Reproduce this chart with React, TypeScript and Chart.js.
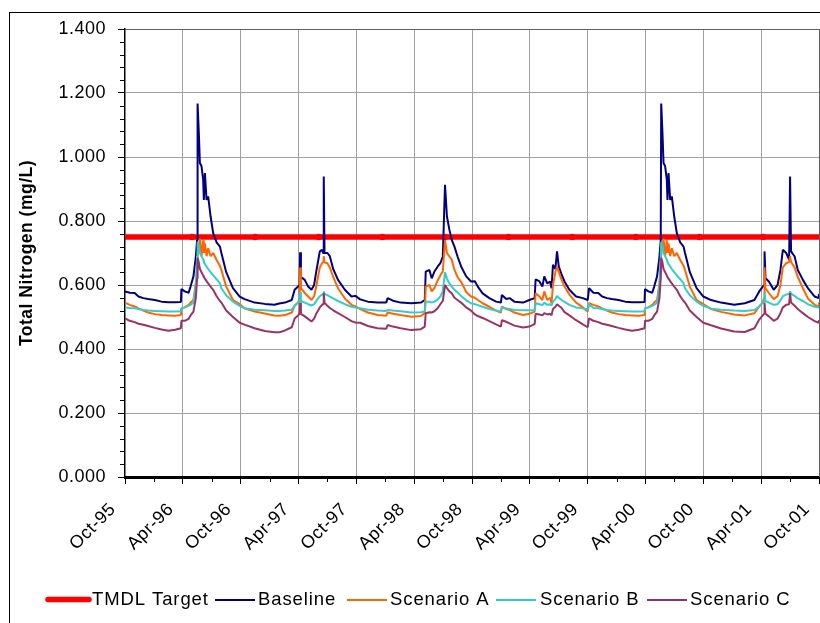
import React, { useEffect, useRef } from 'react';
import { Chart, registerables } from 'chart.js';

Chart.register(...registerables);

// X positions: months elapsed since Oct-95
const tickLabels = ['Oct-95', 'Apr-96', 'Oct-96', 'Apr-97', 'Oct-97', 'Apr-98', 'Oct-98', 'Apr-99', 'Oct-99', 'Apr-00', 'Oct-00', 'Apr-01', 'Oct-01'];

const months = [
  0, 0.5, 1.0, 1.4, 1.9, 2.4, 3.1, 3.8, 4.5, 5.2, 5.8, 5.85, 6.2, 6.6, 6.8, 7.1, 7.35, 7.48, 7.53, 7.66, 7.77, 7.94, 8.11, 8.18, 8.29, 8.46, 8.63, 8.88, 9.15, 9.5, 9.85, 10.0, 10.5, 11.2, 11.9,
  12.4, 13.45, 14.5, 15.5, 16.0, 16.6, 17.3, 17.6, 17.96, 18.12, 18.17, 18.25, 18.65, 19.0, 19.35, 19.62, 19.87, 20.21, 20.45, 20.55, 20.62, 20.7, 21.0, 21.25, 21.6, 22.1, 22.81, 23.5, 23.9,
  24.4, 25.2, 26.2, 27.1, 27.25, 27.8, 28.6, 29.7, 30.7, 31.1, 31.2, 31.58, 31.82, 32.1, 32.45, 32.72, 32.97, 33.2, 33.4, 33.65, 33.9, 34.18, 34.5, 34.87, 35.4, 35.9,
  36.3, 36.6, 37.1, 37.8, 38.5, 39.0, 39.1, 39.55, 39.9, 40.4, 41.3, 41.95, 42.5, 42.6, 43.0, 43.3, 43.5, 43.8, 44.1, 44.25, 44.4, 44.65, 44.82, 45.0, 45.3, 45.6, 46.1, 46.8, 47.5, 48.0,
  48.15, 48.6, 49.1, 49.5, 50.0, 50.5, 51.2, 51.9, 52.6, 53.3, 53.9, 53.95, 54.3, 54.7, 54.9, 55.2, 55.45, 55.58, 55.63, 55.76, 55.87, 56.04, 56.21, 56.28, 56.39, 56.56, 56.73, 56.98, 57.25, 57.6, 57.95, 58.1, 58.6, 59.3, 60.0,
  60.8, 61.84, 63.2, 64.3, 65.3, 65.8, 66.17, 66.3, 66.35, 66.45, 66.8, 67.3, 67.7, 68.0, 68.25, 68.6, 68.9, 69.0, 69.1, 69.47, 69.8, 70.33, 70.85, 71.55, 71.96, 72.0,
];

const baseline = [
  0.580, 0.576, 0.575, 0.564, 0.559, 0.556, 0.553, 0.548, 0.546, 0.546, 0.547, 0.587, 0.580, 0.576, 0.595, 0.627, 0.689, 0.740, 1.167, 1.075, 0.981, 0.971, 0.929, 0.866, 0.950, 0.866, 0.877, 0.814, 0.762, 0.733, 0.720, 0.700, 0.640, 0.590, 0.564,
  0.556, 0.545, 0.541, 0.538, 0.542, 0.545, 0.553, 0.585, 0.595, 0.600, 0.702, 0.625, 0.616, 0.595, 0.585, 0.600, 0.647, 0.705, 0.710, 0.700, 0.939, 0.700, 0.700, 0.690, 0.650, 0.616, 0.585, 0.564, 0.566,
  0.555, 0.548, 0.545, 0.545, 0.559, 0.551, 0.545, 0.543, 0.545, 0.553, 0.642, 0.647, 0.621, 0.642, 0.658, 0.668, 0.689, 0.913, 0.814, 0.773, 0.741, 0.720, 0.689, 0.658, 0.627, 0.611,
  0.612, 0.595, 0.574, 0.559, 0.548, 0.545, 0.569, 0.556, 0.559, 0.548, 0.545, 0.553, 0.559, 0.618, 0.611, 0.595, 0.627, 0.605, 0.611, 0.590, 0.663, 0.650, 0.705, 0.658, 0.632, 0.611, 0.585, 0.564, 0.559, 0.553,
  0.590, 0.576, 0.575, 0.564, 0.559, 0.556, 0.553, 0.548, 0.546, 0.546, 0.547, 0.587, 0.580, 0.576, 0.595, 0.627, 0.689, 0.740, 1.167, 1.075, 0.981, 0.971, 0.929, 0.866, 0.950, 0.866, 0.877, 0.814, 0.762, 0.733, 0.720, 0.700, 0.640, 0.590, 0.564,
  0.553, 0.545, 0.538, 0.543, 0.553, 0.580, 0.595, 0.600, 0.705, 0.621, 0.611, 0.585, 0.600, 0.647, 0.710, 0.700, 0.679, 0.939, 0.705, 0.689, 0.647, 0.616, 0.590, 0.564, 0.559, 0.572,
];

const scenarioA = [
  0.545, 0.538, 0.533, 0.527, 0.520, 0.514, 0.509, 0.506, 0.505, 0.504, 0.506, 0.527, 0.530, 0.538, 0.545, 0.553, 0.606, 0.650, 0.700, 0.720, 0.745, 0.690, 0.740, 0.700, 0.730, 0.690, 0.715, 0.690, 0.700, 0.678, 0.660, 0.647, 0.595, 0.553, 0.540,
  0.527, 0.517, 0.511, 0.505, 0.504, 0.506, 0.514, 0.535, 0.545, 0.560, 0.655, 0.590, 0.575, 0.564, 0.553, 0.565, 0.600, 0.655, 0.668, 0.672, 0.690, 0.670, 0.668, 0.655, 0.625, 0.590, 0.558, 0.538, 0.533,
  0.525, 0.514, 0.506, 0.504, 0.514, 0.510, 0.506, 0.501, 0.503, 0.512, 0.595, 0.600, 0.580, 0.590, 0.615, 0.630, 0.642, 0.740, 0.700, 0.689, 0.679, 0.647, 0.625, 0.610, 0.578, 0.564,
  0.560, 0.553, 0.543, 0.532, 0.520, 0.514, 0.532, 0.525, 0.522, 0.514, 0.506, 0.510, 0.517, 0.574, 0.564, 0.553, 0.580, 0.553, 0.560, 0.543, 0.600, 0.640, 0.658, 0.640, 0.616, 0.595, 0.570, 0.545, 0.530, 0.517,
  0.543, 0.538, 0.533, 0.527, 0.520, 0.514, 0.509, 0.506, 0.505, 0.504, 0.506, 0.527, 0.530, 0.538, 0.545, 0.553, 0.606, 0.650, 0.700, 0.720, 0.745, 0.690, 0.740, 0.700, 0.730, 0.690, 0.715, 0.690, 0.700, 0.678, 0.660, 0.647, 0.595, 0.553, 0.540,
  0.525, 0.516, 0.508, 0.505, 0.512, 0.533, 0.545, 0.560, 0.655, 0.590, 0.575, 0.556, 0.565, 0.600, 0.655, 0.668, 0.672, 0.690, 0.672, 0.655, 0.625, 0.590, 0.558, 0.538, 0.533, 0.545,
];

const scenarioB = [
  0.530, 0.528, 0.527, 0.525, 0.522, 0.520, 0.519, 0.518, 0.517, 0.517, 0.518, 0.527, 0.530, 0.535, 0.538, 0.545, 0.600, 0.690, 0.735, 0.720, 0.700, 0.690, 0.680, 0.672, 0.665, 0.658, 0.650, 0.640, 0.630, 0.618, 0.605, 0.590, 0.568, 0.548, 0.535,
  0.527, 0.523, 0.521, 0.519, 0.519, 0.520, 0.523, 0.535, 0.545, 0.550, 0.578, 0.550, 0.545, 0.540, 0.536, 0.540, 0.552, 0.565, 0.570, 0.572, 0.580, 0.572, 0.568, 0.564, 0.558, 0.550, 0.540, 0.532, 0.530,
  0.527, 0.523, 0.520, 0.519, 0.522, 0.520, 0.518, 0.514, 0.515, 0.517, 0.548, 0.548, 0.545, 0.548, 0.555, 0.564, 0.580, 0.640, 0.620, 0.605, 0.595, 0.585, 0.577, 0.566, 0.552, 0.543,
  0.540, 0.537, 0.532, 0.525, 0.520, 0.517, 0.530, 0.527, 0.525, 0.522, 0.521, 0.521, 0.520, 0.543, 0.540, 0.537, 0.545, 0.538, 0.540, 0.536, 0.548, 0.556, 0.566, 0.560, 0.553, 0.547, 0.538, 0.530, 0.527, 0.524,
  0.540, 0.528, 0.527, 0.525, 0.522, 0.520, 0.519, 0.518, 0.517, 0.517, 0.518, 0.527, 0.530, 0.535, 0.538, 0.545, 0.600, 0.690, 0.735, 0.720, 0.700, 0.690, 0.680, 0.672, 0.665, 0.658, 0.650, 0.640, 0.630, 0.618, 0.605, 0.590, 0.568, 0.548, 0.535,
  0.526, 0.523, 0.520, 0.519, 0.522, 0.533, 0.545, 0.550, 0.578, 0.550, 0.545, 0.538, 0.540, 0.552, 0.565, 0.570, 0.572, 0.580, 0.572, 0.566, 0.558, 0.550, 0.540, 0.532, 0.530, 0.535,
];

const scenarioC = [
  0.496, 0.488, 0.484, 0.479, 0.476, 0.472, 0.466, 0.461, 0.457, 0.460, 0.465, 0.488, 0.488, 0.494, 0.505, 0.517, 0.560, 0.620, 0.685, 0.670, 0.650, 0.640, 0.630, 0.625, 0.620, 0.612, 0.605, 0.595, 0.585, 0.565, 0.550, 0.545, 0.520, 0.500, 0.482,
  0.476, 0.465, 0.456, 0.452, 0.452, 0.458, 0.468, 0.495, 0.505, 0.510, 0.545, 0.510, 0.502, 0.494, 0.486, 0.495, 0.512, 0.530, 0.538, 0.540, 0.575, 0.545, 0.535, 0.528, 0.521, 0.512, 0.500, 0.487, 0.483,
  0.482, 0.472, 0.465, 0.463, 0.475, 0.470, 0.465, 0.459, 0.462, 0.470, 0.512, 0.515, 0.514, 0.518, 0.528, 0.540, 0.550, 0.600, 0.590, 0.580, 0.574, 0.560, 0.553, 0.545, 0.530, 0.520,
  0.508, 0.503, 0.497, 0.487, 0.477, 0.470, 0.490, 0.485, 0.480, 0.473, 0.467, 0.470, 0.478, 0.510, 0.508, 0.505, 0.512, 0.508, 0.510, 0.505, 0.525, 0.532, 0.540, 0.535, 0.528, 0.515, 0.505, 0.490, 0.477, 0.468,
  0.496, 0.488, 0.484, 0.479, 0.476, 0.472, 0.466, 0.461, 0.457, 0.460, 0.465, 0.488, 0.488, 0.494, 0.505, 0.517, 0.560, 0.620, 0.685, 0.670, 0.650, 0.640, 0.630, 0.625, 0.620, 0.612, 0.605, 0.595, 0.585, 0.565, 0.550, 0.545, 0.520, 0.500, 0.482,
  0.474, 0.464, 0.455, 0.453, 0.465, 0.492, 0.505, 0.510, 0.545, 0.510, 0.502, 0.488, 0.495, 0.512, 0.530, 0.538, 0.540, 0.575, 0.545, 0.535, 0.525, 0.512, 0.500, 0.487, 0.482, 0.490,
];

const tmdlMonths = [0, 6.95, 13.5, 20.1, 26.7, 33.2, 39.8, 46.4, 53.0, 59.6, 66.2, 72];
const tmdlValues = [0.75, 0.75, 0.75, 0.75, 0.75, 0.75, 0.75, 0.75, 0.75, 0.75, 0.75, 0.75];

const seriesNames = ['TMDL Target', 'Baseline', 'Scenario A', 'Scenario B', 'Scenario C'];
const seriesColors = ['#FF0000', '#000080', '#FF6600', '#33CCCC', '#993366'];

const FONT = '"Liberation Sans", Arial, Helvetica, sans-serif';

const decorPlugin = {
  id: 'decor',
  beforeDraw(chart: any) {
    const ctx = chart.ctx;
    ctx.save();
    ctx.fillStyle = '#ffffff';
    ctx.fillRect(0, 0, chart.width, chart.height);
    ctx.strokeStyle = '#000000';
    ctx.lineWidth = 1;
    ctx.strokeRect(9.5, 12.5, chart.width + 40, chart.height + 40);
    ctx.restore();
    ctx.letterSpacing = '0.5px';
  },
  afterDraw(chart: any) {
    const { ctx, chartArea: a, scales } = chart;
    const xs = scales.x;
    const ys = scales.y;
    ctx.save();
    // plot-area border (top and right)
    ctx.strokeStyle = '#606060';
    ctx.lineWidth = 1;
    const top = Math.round(a.top) + 0.5;
    const right = Math.round(a.right) + 0.5;
    ctx.beginPath();
    ctx.moveTo(a.left, top);
    ctx.lineTo(right, top);
    ctx.lineTo(right, a.bottom);
    ctx.stroke();
    // minor ticks
    ctx.strokeStyle = '#000000';
    ctx.beginPath();
    for (let i = 1; i < 35; i++) {
      if (i % 5 === 0) continue;
      const p = Math.round(ys.getPixelForValue(i * 0.04)) + 0.5;
      ctx.moveTo(a.left - 5, p);
      ctx.lineTo(a.left, p);
    }
    for (let m = 3; m < 72; m += 6) {
      const p = Math.round(xs.getPixelForValue(m)) + 0.5;
      ctx.moveTo(p, a.bottom);
      ctx.lineTo(p, a.bottom + 5);
    }
    ctx.stroke();

    // legend
    const lineStarts = [48, 215, 347, 496, 647];
    const lineEnds = [89, 255, 387, 536, 687];
    const textStarts = [92, 258, 390, 540, 690];
    ctx.font = '18.5px ' + FONT;
    ctx.letterSpacing = '0.9px';
    ctx.textBaseline = 'alphabetic';
    ctx.textAlign = 'left';
    for (let i = 0; i < seriesNames.length; i++) {
      ctx.beginPath();
      ctx.strokeStyle = seriesColors[i];
      if (i === 0) {
        ctx.lineWidth = 5.5;
        ctx.lineCap = 'round';
        ctx.moveTo(lineStarts[i], 599.5);
        ctx.lineTo(lineEnds[i], 599.5);
      } else {
        ctx.lineWidth = 2;
        ctx.lineCap = 'butt';
        ctx.moveTo(lineStarts[i], 600);
        ctx.lineTo(lineEnds[i], 600);
      }
      ctx.stroke();
      ctx.fillStyle = '#000000';
      ctx.fillText(seriesNames[i], textStarts[i], 604.5);
    }
    ctx.restore();
  },
};

export default function App() {
  const canvasRef = useRef<HTMLCanvasElement | null>(null);

  useEffect(() => {
    if (!canvasRef.current) return;
    Chart.defaults.font.family = FONT;
    Chart.defaults.color = '#000000';

    const series = [baseline, scenarioA, scenarioB, scenarioC];
    const datasets: any[] = [
      {
        label: seriesNames[0],
        data: tmdlMonths.map((m, i) => ({ x: m, y: tmdlValues[i] })),
        borderColor: seriesColors[0],
        backgroundColor: seriesColors[0],
        borderWidth: 5.5,
        pointRadius: (c: any) => (c.dataIndex === 0 || c.dataIndex === tmdlMonths.length - 1 ? 0 : 3.2),
        pointBorderWidth: 0,
        pointBackgroundColor: seriesColors[0],
        tension: 0,
        order: 4,
      },
      ...series.map((vals, k) => ({
        label: seriesNames[k + 1],
        data: months.map((m, i) => ({ x: m, y: vals[i] })),
        borderColor: seriesColors[k + 1],
        backgroundColor: seriesColors[k + 1],
        borderWidth: 2,
        borderJoinStyle: 'bevel',
        pointRadius: 0,
        tension: 0,
        order: 3 - k,
      })),
    ];

    const chart = new Chart(canvasRef.current, {
      type: 'line',
      data: { datasets },
      plugins: [decorPlugin],
      options: {
        responsive: false,
        animation: false,
        devicePixelRatio: 1,
        layout: { padding: { left: 0, top: 29, right: 1, bottom: 0 } },
        plugins: {
          legend: { display: false },
          tooltip: { enabled: false },
        },
        scales: {
          x: {
            type: 'linear',
            min: 0,
            max: 72,
            afterFit: (s: any) => {
              s.height = 146;
              s.paddingLeft = 0;
              s.paddingRight = 0;
            },
            ticks: {
              stepSize: 6,
              autoSkip: false,
              minRotation: 45,
              maxRotation: 45,
              padding: 15,
              labelOffset: -12,
              font: { size: 18, family: FONT },
              color: '#000000',
              callback: (v: any) => tickLabels[Math.round(Number(v) / 6)] ?? '',
            },
            grid: {
              color: (c: any) => (c.tick && c.tick.value === 0 ? 'rgba(0,0,0,0)' : '#a0a0a0'),
              lineWidth: 1,
              tickColor: '#000000',
              tickLength: 7,
              drawTicks: true,
            },
            border: { display: true, color: '#000000', width: 3 },
          },
          y: {
            type: 'linear',
            min: 0,
            max: 1.4,
            afterFit: (s: any) => {
              s.width = 125;
              s.paddingTop = 0;
              s.paddingBottom = 0;
            },
            ticks: {
              stepSize: 0.2,
              padding: 12,
              font: { size: 18, family: FONT },
              color: '#000000',
              callback: (v: any) => Number(v).toFixed(3),
            },
            grid: {
              color: (c: any) => (c.tick && c.tick.value === 0 ? 'rgba(0,0,0,0)' : '#a0a0a0'),
              lineWidth: 1,
              tickColor: '#000000',
              tickLength: 7,
              drawTicks: true,
            },
            border: { display: true, color: '#000000', width: 1.5 },
            title: {
              display: true,
              text: 'Total Nitrogen (mg/L)',
              font: { size: 17.5, weight: 'bold', family: FONT },
              color: '#000000',
              padding: { top: 16.5, bottom: 0 },
            },
          },
        },
      },
    });
    return () => chart.destroy();
  }, []);

  return (
    <div style={{ position: 'absolute', left: 0, top: 0, width: 820, height: 623, background: '#ffffff' }}>
      <canvas ref={canvasRef} width={820} height={623} style={{ display: 'block' }} />
    </div>
  );
}
